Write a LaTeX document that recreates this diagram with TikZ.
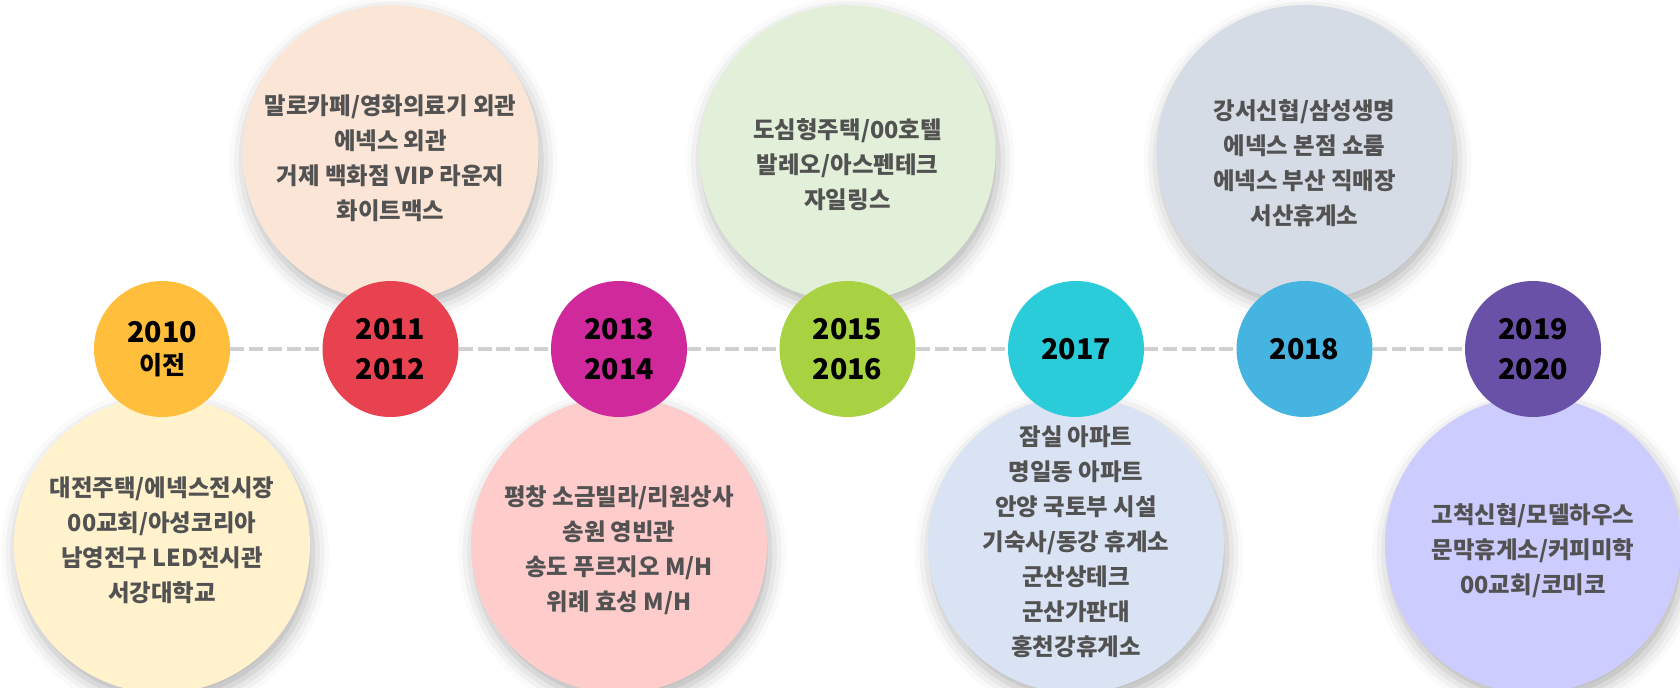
\documentclass[tikz,border=0pt]{standalone}
\usepackage{fontspec}
\setmainfont{Noto Sans CJK KR}
\usepackage{tikz}
\usetikzlibrary{shadows.blur}
\definecolor{amber}{RGB}{255, 190, 60}
\definecolor{crimsonred}{RGB}{232, 65, 80}
\definecolor{fuchsia}{RGB}{207, 41, 155}
\definecolor{limegreen}{RGB}{168, 210, 65}
\definecolor{cyanblue}{RGB}{42, 204, 217}
\definecolor{skyblue}{RGB}{70, 180, 224}
\definecolor{royalpurple}{RGB}{106, 81, 168}
\definecolor{cream}{RGB}{255, 242, 204}
\definecolor{peach}{RGB}{251, 229, 214}
\definecolor{blush}{RGB}{255, 204, 204}
\definecolor{mint}{RGB}{226, 240, 217}
\definecolor{powder}{RGB}{218, 227, 243}
\definecolor{mist}{RGB}{214, 220, 229}
\definecolor{lavender}{RGB}{204, 204, 255}
\definecolor{inktext}{RGB}{82, 82, 82}
\definecolor{dashgray}{RGB}{208, 208, 208}

\begin{document}
\begin{tikzpicture}[x=0.5pt, y=-0.5pt,
        bubble/.style={blur shadow={shadow xshift=1.5pt, shadow yshift=-4pt, shadow blur radius=8pt, shadow opacity=30}},
        infotext/.style={align=center, text=inktext, font=\bfseries\fontsize{11.7}{17.5}\selectfont},
        yearball/.style={circle, minimum size=68pt, inner sep=0pt, align=center, text=black,
                         font=\bfseries\fontsize{14.3}{20}\selectfont},
        timeline/.style={draw=dashgray, line width=2pt, dash pattern=on 7pt off 2.35pt}]
    \useasboundingbox (0,0) rectangle (1680,688);

    \fill[bubble, fill=peach]    ( 390.5, 153) circle (148);
    \fill[bubble, fill=mint]     ( 847.5, 153) circle (148);
    \fill[bubble, fill=mist]     (1304.5, 153) circle (148);
    \fill[bubble, fill=cream]    ( 162.0, 545) circle (148);
    \fill[bubble, fill=blush]    ( 619.0, 545) circle (148);
    \fill[bubble, fill=powder]   (1076.0, 545) circle (148);
    \fill[bubble, fill=lavender] (1533.0, 545) circle (148);

    \node[infotext] (t2011) at ( 390.5, 158) {말로카페/영화의료기 외관\\에넥스 외관\\거제 백화점 VIP 라운지\\화이트맥스};
    \node[infotext] (t2015) at ( 847.5, 165) {도심형주택/00호텔\\발레오/아스펜테크\\자일링스};
    \node[infotext] (t2018) at (1304.5, 163) {강서신협/삼성생명\\에넥스 본점 쇼룸\\에넥스 부산 직매장\\서산휴게소};
    \node[infotext] (t2010) at ( 162.0, 540) {대전주택/에넥스전시장\\00교회/아성코리아\\남영전구 LED전시관\\서강대학교};
    \node[infotext] (t2013) at ( 619.0, 550) {평창 소금빌라/리원상사\\송원 영빈관\\송도 푸르지오 M/H\\위례 효성 M/H};
    \node[infotext] (t2017) at (1076.0, 542) {잠실 아파트\\명일동 아파트\\안양 국토부 시설\\기숙사/동강 휴게소\\군산상테크\\군산가판대\\홍천강휴게소};
    \node[infotext] (t2019) at (1533.0, 551) {고척신협/모델하우스\\문막휴게소/커피미학\\00교회/코미코};

    \node[yearball, fill=amber]       (y2010) at ( 162.0, 349) {2010\\[-4pt]{\fontsize{12.5}{16}\selectfont 이전}};
    \node[yearball, fill=crimsonred]  (y2011) at ( 390.5, 349) {2011\\2012};
    \node[yearball, fill=fuchsia]     (y2013) at ( 619.0, 349) {2013\\2014};
    \node[yearball, fill=limegreen]   (y2015) at ( 847.5, 349) {2015\\2016};
    \node[yearball, fill=cyanblue]    (y2017) at (1076.0, 349) {2017};
    \node[yearball, fill=skyblue]     (y2018) at (1304.5, 349) {2018};
    \node[yearball, fill=royalpurple] (y2019) at (1533.0, 349) {2019\\2020};

    \draw[timeline] (y2010) -- (y2011);
    \draw[timeline] (y2011) -- (y2013);
    \draw[timeline] (y2013) -- (y2015);
    \draw[timeline] (y2015) -- (y2017);
    \draw[timeline] (y2017) -- (y2018);
    \draw[timeline] (y2018) -- (y2019);
\end{tikzpicture}
\end{document}
